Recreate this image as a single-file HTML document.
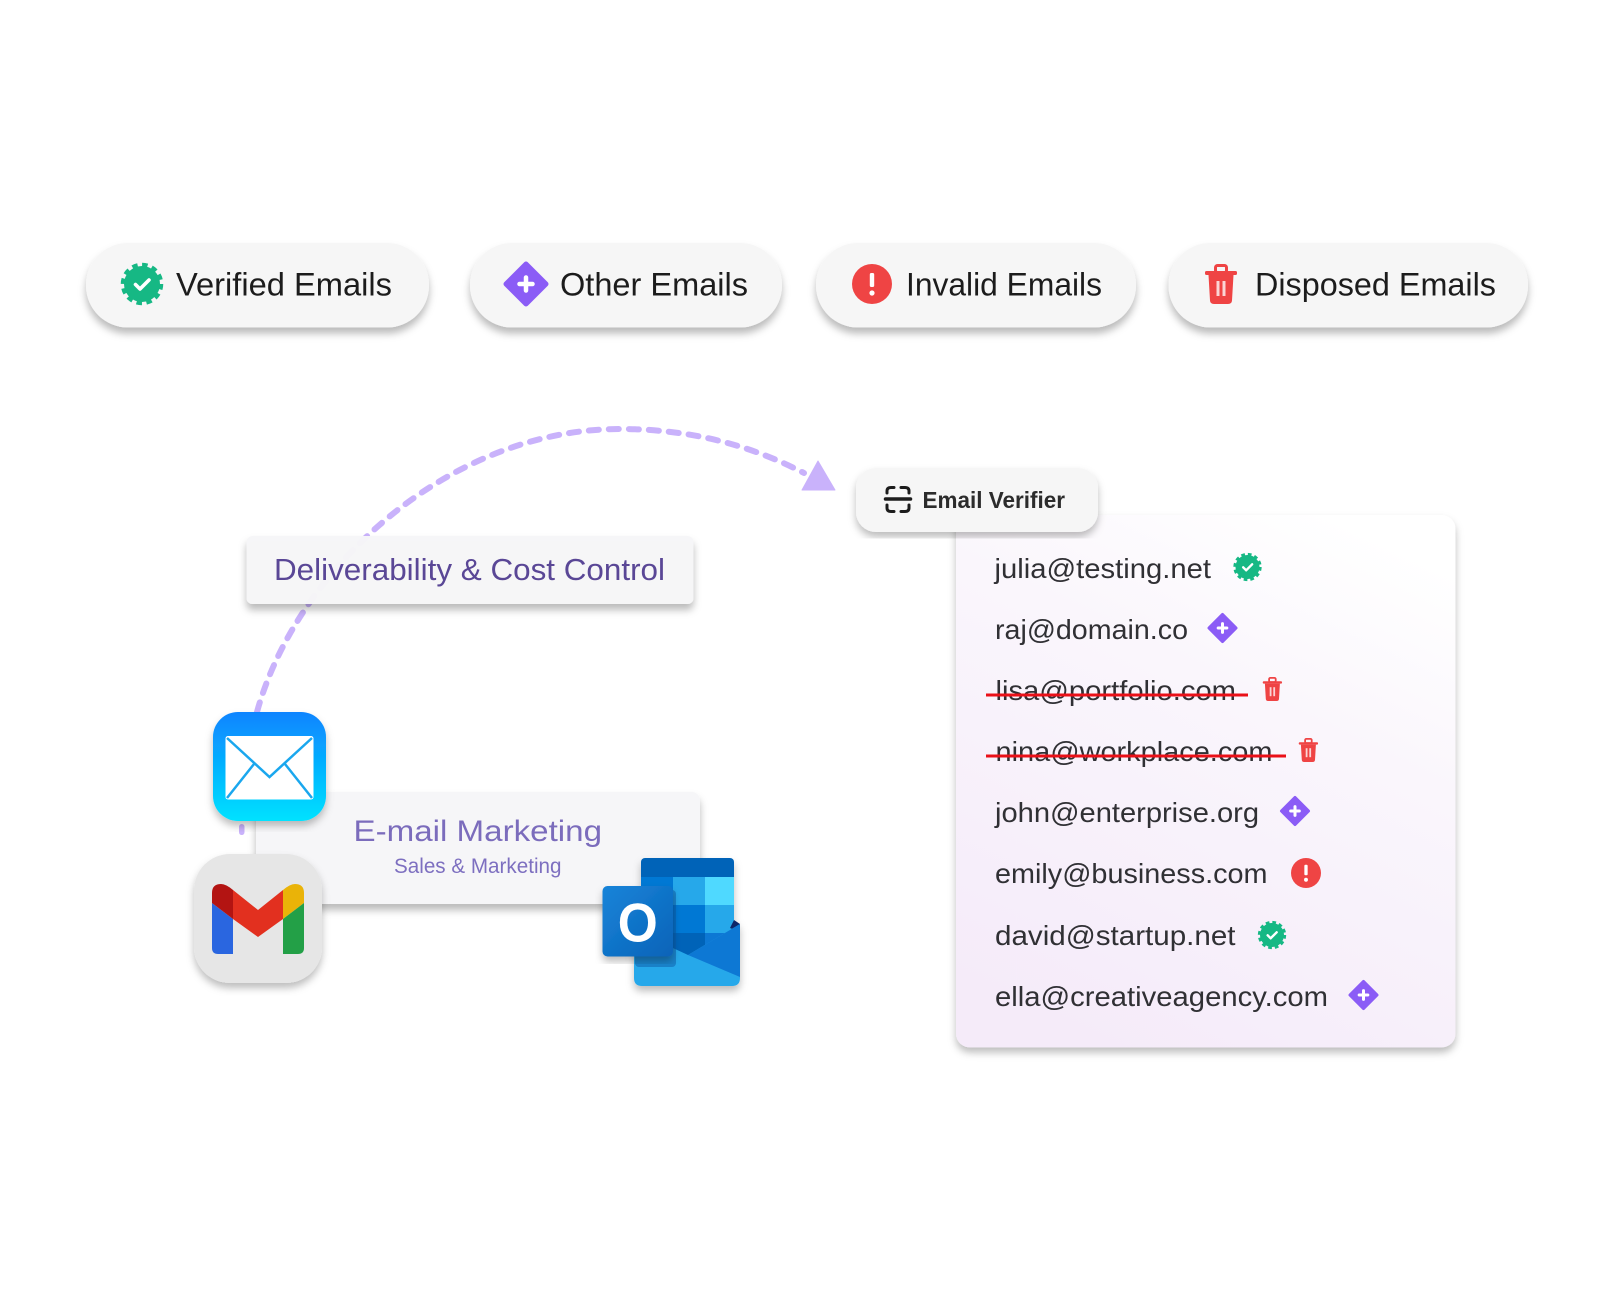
<!DOCTYPE html>
<html><head><meta charset="utf-8"><title>Email verifier diagram</title>
<style>
html,body{margin:0;padding:0;background:#fff}
svg{display:block}
text{font-family:"Liberation Sans",sans-serif}
.p{font-size:32.5px;fill:#1c1c1c}
.l{font-size:28px;fill:#303034}
</style></head><body>
<svg width="1614" height="1290" viewBox="0 0 1614 1290" xmlns="http://www.w3.org/2000/svg">
<defs>
<filter id="s" x="-10%" y="-20%" width="120%" height="150%"><feDropShadow dx="0" dy="6" stdDeviation="4" flood-color="#000" flood-opacity=".27"/></filter>
<filter id="s2" x="-10%" y="-10%" width="120%" height="120%"><feDropShadow dx="0" dy="5" stdDeviation="4" flood-color="#000" flood-opacity=".26"/></filter>
<linearGradient id="mail" x1="0" y1="0" x2="0" y2="1"><stop offset="0" stop-color="#0a84ff"/><stop offset="1" stop-color="#00e2ff"/></linearGradient>
<linearGradient id="list" x1=".75" y1="0" x2=".3" y2="1"><stop offset="0" stop-color="#fff"/><stop offset=".35" stop-color="#faf6fc"/><stop offset="1" stop-color="#f5ebf9"/></linearGradient>
<linearGradient id="ob" x1="0" y1="0" x2="1" y2="1"><stop offset="0" stop-color="#1784d9"/><stop offset="1" stop-color="#0a63b8"/></linearGradient>
<symbol id="badge" viewBox="-24 -24 48 48"><circle r="18" fill="#16b884" stroke="#16b884" stroke-width="6.5" stroke-dasharray="5.2 4.22"/><path d="M-6.500 0.500L-2 5L7 -4" fill="none" stroke="#fff" stroke-width="3.600" stroke-linecap="round" stroke-linejoin="round"/></symbol>
<symbol id="dia" viewBox="-24 -24 48 48"><polygon points="0,-20 20,0 0,20 -20,0" fill="#8b5cf6" stroke="#8b5cf6" stroke-width="5" stroke-linejoin="round"/><path d="M-6.500 0H6.500M0 -6.500V6.500" stroke="#fff" stroke-width="4.500" stroke-linecap="round"/></symbol>
<symbol id="red" viewBox="-20 -20 40 40"><circle r="20" fill="#ef4444"/><rect x="-2.200" y="-11" width="4.400" height="14" rx="1.500" fill="#fff"/><circle cy="9" r="2.600" fill="#fff"/></symbol>
<symbol id="trash" viewBox="0 0 32 40"><rect x="10.500" y="1.500" width="11" height="7" rx="2" fill="none" stroke="#ef4444" stroke-width="3"/><rect x="0" y="7" width="32" height="4" rx="1.500" fill="#ef4444"/><path d="M3.500 11H28.500L27 36.500Q26.800 40 23 40H9Q5.200 40 5 36.500Z" fill="#ef4444"/><rect x="11.500" y="17" width="3" height="15" fill="#fbd5d5"/><rect x="17.500" y="17" width="3" height="15" fill="#fbd5d5"/></symbol>
</defs>

<!-- pills -->
<rect x="86" y="243" width="343" height="84.500" rx="42" fill="#f6f6f6" filter="url(#s)"/>
<rect x="470" y="243" width="312" height="84.500" rx="42" fill="#f6f6f6" filter="url(#s)"/>
<rect x="816" y="243" width="320" height="84.500" rx="42" fill="#f6f6f6" filter="url(#s)"/>
<rect x="1168.500" y="243" width="359.500" height="84.500" rx="42" fill="#f6f6f6" filter="url(#s)"/>
<use href="#badge" x="118" y="260" width="48" height="48"/>
<use href="#dia" x="502" y="260" width="48" height="48"/>
<use href="#red" x="852" y="264" width="40" height="40"/>
<use href="#trash" x="1205" y="264" width="32" height="40"/>
<text class="p" x="176" y="295.500" textLength="216" lengthAdjust="spacingAndGlyphs">Verified Emails</text>
<text class="p" x="560" y="295.500" textLength="188" lengthAdjust="spacingAndGlyphs">Other Emails</text>
<text class="p" x="906" y="295.500" textLength="196" lengthAdjust="spacingAndGlyphs">Invalid Emails</text>
<text class="p" x="1255" y="295.500" textLength="241" lengthAdjust="spacingAndGlyphs">Disposed Emails</text>

<!-- arc -->
<path d="M257 712C296 570 448 429 620 429C690 429 750 445 804 473" fill="none" stroke="#c9b2fb" stroke-width="6" stroke-linecap="round" stroke-dasharray="10 10"/>
<polygon points="818,461 835,490 802,490" fill="#c9b2fb" stroke="#c9b2fb" stroke-width="1" stroke-linejoin="round"/>
<rect x="239" y="824" width="5.500" height="11" rx="2.700" fill="#c9b2fb"/>

<!-- deliverability -->
<rect x="246.500" y="536" width="447" height="68" rx="6" fill="#f6f6f8" fill-opacity=".98" filter="url(#s)"/>
<text x="274" y="580" font-size="30.500" fill="#5a4796" textLength="391" lengthAdjust="spacingAndGlyphs">Deliverability &amp; Cost Control</text>

<!-- e-mail marketing -->
<rect x="256" y="792" width="444" height="112" rx="8" fill="#f6f6f8" filter="url(#s)"/>
<text x="353.500" y="841" font-size="30" fill="#7b6cbc" textLength="248.500" lengthAdjust="spacingAndGlyphs">E-mail Marketing</text>
<text x="394" y="873" font-size="21" fill="#7d6fc0" textLength="167.500" lengthAdjust="spacingAndGlyphs">Sales &amp; Marketing</text>

<!-- mail icon -->
<rect x="213" y="712" width="113" height="109" rx="25" fill="url(#mail)" filter="url(#s2)"/>
<rect x="225.500" y="736" width="88" height="63.500" rx="2.500" fill="#fff"/>
<path d="M227 738L269.500 777L312 738M227 798L254 764M312 798L285 764" fill="none" stroke="#1aa7ee" stroke-width="2.500"/>

<!-- gmail -->
<rect x="194" y="854" width="128" height="129" rx="36" fill="#e6e6e6" filter="url(#s2)"/>
<path d="M212 903L233 919V954H218Q212 954 212 948Z" fill="#2a66e0"/>
<path d="M212 903V893Q212 884 221 884Q226 884 233 890V919Z" fill="#b31412"/>
<polygon points="233,890 258,910 283,890 283,919 258,937 233,919" fill="#e2301f"/>
<path d="M283 890Q290 884 295 884Q304 884 304 893V903L283 919Z" fill="#eab308"/>
<path d="M283 919L304 903V948Q304 954 298 954H283Z" fill="#23a047"/>

<!-- outlook -->
<g filter="url(#s2)">
<rect x="641" y="858" width="93" height="100" rx="4" fill="#0364b8"/>
<rect x="641" y="877" width="32" height="28" fill="#0078d4"/>
<rect x="673" y="877" width="32" height="28" fill="#28a8ea"/>
<rect x="705" y="877" width="29" height="28" fill="#50d9ff"/>
<rect x="673" y="905" width="32" height="28" fill="#0078d4"/>
<rect x="705" y="905" width="29" height="28" fill="#28a8ea"/>
<rect x="673" y="933" width="32" height="26" fill="#0364b8"/>
<rect x="705" y="933" width="29" height="26" fill="#0f78d4"/>
<polygon points="734,920 740,924 740,932 730,928" fill="#0a2767"/>
<path d="M634 930L688 955L740 924V978Q740 986 732 986H642Q634 986 634 978Z" fill="#28a8ea"/>
<polygon points="688,955 740,924 740,977" fill="#0f78d4"/>
</g>
<rect x="635" y="890" width="41" height="77" rx="4" fill="#0b5aa5" opacity=".5"/>
<rect x="602.500" y="886" width="70.500" height="70.500" rx="5" fill="url(#ob)" filter="url(#s2)"/>
<text x="637.700" y="941.500" font-size="55" font-weight="bold" fill="#fff" text-anchor="middle" textLength="40" lengthAdjust="spacingAndGlyphs">O</text>

<!-- list card -->
<rect x="956" y="515" width="499.500" height="532.500" rx="14" fill="url(#list)" filter="url(#s2)"/>
<rect x="856" y="468" width="242" height="64" rx="20" fill="#f6f6f6" filter="url(#s2)"/>
<g fill="none" stroke="#1c1c1c" stroke-width="3" stroke-linecap="round">
<path d="M887 493V491Q887 487.500 891 487.500H894M901 487.500H905Q909 487.500 909 491V493"/>
<path d="M887 505V508Q887 511.500 891 511.500H894M901 511.500H905Q909 511.500 909 508V505"/>
<path d="M885.500 499H910.500" stroke-width="3.500"/>
</g>
<text x="922.500" y="508" font-size="23" font-weight="bold" fill="#2c2c2c" textLength="142.500" lengthAdjust="spacingAndGlyphs">Email Verifier</text>

<text class="l" x="994.500" y="578" textLength="216.500" lengthAdjust="spacingAndGlyphs">julia@testing.net</text>
<text class="l" x="995" y="639" textLength="193" lengthAdjust="spacingAndGlyphs">raj@domain.co</text>
<text class="l" x="995.500" y="700" textLength="240.500" lengthAdjust="spacingAndGlyphs">lisa@portfolio.com</text>
<text class="l" x="995.500" y="761" textLength="277" lengthAdjust="spacingAndGlyphs">nina@workplace.com</text>
<text class="l" x="995" y="822" textLength="264" lengthAdjust="spacingAndGlyphs">john@enterprise.org</text>
<text class="l" x="995" y="883" textLength="272.500" lengthAdjust="spacingAndGlyphs">emily@business.com</text>
<text class="l" x="995" y="945" textLength="240.500" lengthAdjust="spacingAndGlyphs">david@startup.net</text>
<text class="l" x="995" y="1006" textLength="333" lengthAdjust="spacingAndGlyphs">ella@creativeagency.com</text>

<rect x="986" y="693.500" width="262" height="3" fill="#ea1018"/>
<rect x="986" y="754.500" width="300" height="3" fill="#ea1018"/>

<use href="#badge" x="1231.500" y="551" width="32" height="32"/>
<use href="#dia" x="1206.500" y="612" width="32" height="32"/>
<use href="#trash" x="1262.400" y="677" width="20" height="24"/>
<use href="#trash" x="1298.400" y="738" width="20" height="24"/>
<use href="#dia" x="1279" y="795" width="32" height="32"/>
<use href="#red" x="1291" y="858" width="30" height="30"/>
<use href="#badge" x="1256" y="919" width="32" height="32"/>
<use href="#dia" x="1347.500" y="979" width="32" height="32"/>
</svg>
</body></html>
